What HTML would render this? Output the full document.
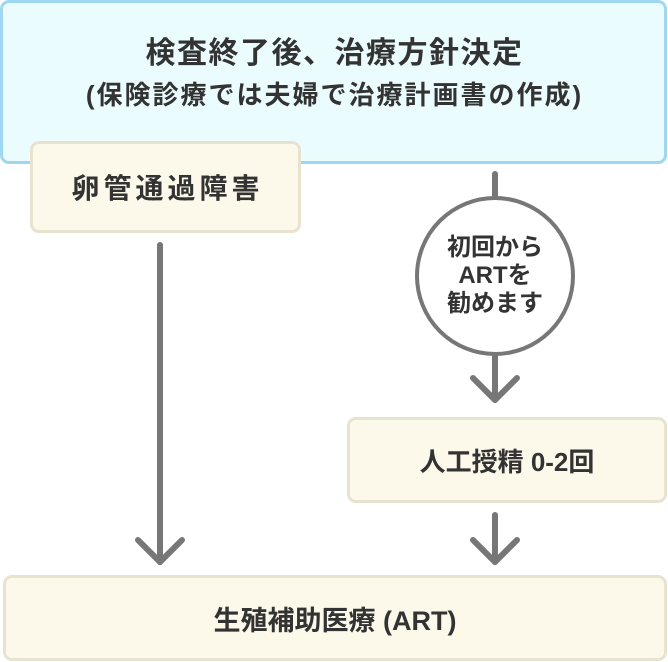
<!DOCTYPE html>
<html><head><meta charset="utf-8"><style>
body{margin:0;width:668px;height:662px;background:#fff;position:relative;overflow:hidden;font-family:"Liberation Sans","Noto Sans CJK JP",sans-serif;color:#333;font-weight:bold}
.b{position:absolute;box-sizing:border-box;display:flex;align-items:center;justify-content:center;text-align:center;white-space:nowrap}
.top{left:0;top:0;width:667px;height:164px;background:#eafcfd;border:3px solid #9dd8f0;border-radius:9px;flex-direction:column;justify-content:flex-start;padding-top:31px}
.y{background:#fdf9ea;border:3px solid #e8e3cf;border-radius:9px}
</style></head><body>
<div class="b top"><div style="font-size:30px;letter-spacing:1.5px;line-height:40px;margin-left:2px">検査終了後、治療方針決定</div><div style="font-size:26px;letter-spacing:2px;line-height:32px;margin-top:5px;margin-left:2px">(保険診療では夫婦で治療計画書の作成)</div></div>
<div class="b y" style="left:30px;top:141px;width:271px;height:92px;font-size:28px;letter-spacing:4px;padding-left:4px">卵管通過障害</div>
<svg style="position:absolute;left:0;top:0" width="668" height="662">
<g stroke="#777" stroke-width="6" fill="none" stroke-linecap="round" stroke-linejoin="round">
<line x1="160" y1="245" x2="160" y2="562"/><polyline points="138,540 160,562 182,540"/>
<line x1="495" y1="174" x2="495" y2="197"/>
<line x1="495" y1="355" x2="495" y2="400"/><polyline points="473,378 495,400 517,378"/>
<line x1="495" y1="515" x2="495" y2="562"/><polyline points="473,540 495,562 517,540"/>
</g>
<circle cx="495" cy="276" r="78" fill="#fff" stroke="#777" stroke-width="4"/>
</svg>
<div class="b" style="left:417px;top:198px;width:156px;height:156px;font-size:24px;line-height:28px;flex-direction:column">初回から<br>ARTを<br>勧めます</div>
<div class="b y" style="left:347px;top:417px;width:320px;height:86px;font-size:26px">人工授精 0-2回</div>
<div class="b y" style="left:3px;top:575px;width:664px;height:86px;font-size:27px">生殖補助医療 (ART)</div>
</body></html>
